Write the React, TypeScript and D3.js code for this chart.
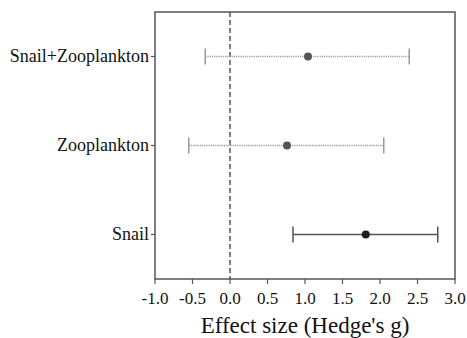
import { useEffect, useRef } from "react";
import * as d3 from "d3";

const categories = ["Snail+Zooplankton", "Zooplankton", "Snail"];
const means = [1.04, 0.76, 1.81];
const lowers = [-0.33, -0.55, 0.84];
const uppers = [2.39, 2.05, 2.77];
const xTicks = [-1.0, -0.5, 0.0, 0.5, 1.0, 1.5, 2.0, 2.5, 3.0];

const width = 467;
const height = 338;
const margin = { top: 12, right: 12, bottom: 59, left: 155 };

export default function App() {
  const ref = useRef<SVGSVGElement | null>(null);

  useEffect(() => {
    if (!ref.current) return;
    const svg = d3.select(ref.current);
    svg.selectAll("*").remove();

    const x = d3.scaleLinear([-1, 3], [margin.left, width - margin.right]);
    const y = d3
      .scalePoint<string>()
      .domain(categories)
      .range([margin.top, height - margin.bottom])
      .padding(0.5);

    const font = "'Times New Roman', 'Liberation Serif', serif";
    const axisColor = "#555";
    const bottom = height - margin.bottom;

    // plot frame
    svg
      .append("rect")
      .attr("x", margin.left)
      .attr("y", margin.top)
      .attr("width", width - margin.left - margin.right)
      .attr("height", bottom - margin.top)
      .attr("fill", "none")
      .attr("stroke", axisColor)
      .attr("stroke-width", 1.5);

    // x ticks + labels
    svg
      .selectAll("line.xtick")
      .data(xTicks)
      .enter()
      .append("line")
      .attr("class", "xtick")
      .attr("x1", (d) => x(d))
      .attr("x2", (d) => x(d))
      .attr("y1", bottom)
      .attr("y2", bottom + 5)
      .attr("stroke", axisColor)
      .attr("stroke-width", 1.2);

    svg
      .selectAll("text.xlab")
      .data(xTicks)
      .enter()
      .append("text")
      .attr("class", "xlab")
      .attr("x", (d) => x(d))
      .attr("y", bottom + 25)
      .attr("text-anchor", "middle")
      .attr("font-family", font)
      .attr("font-size", 17)
      .attr("fill", "#111")
      .text((d) => d.toFixed(1));

    // y ticks + labels
    svg
      .selectAll("line.ytick")
      .data(categories)
      .enter()
      .append("line")
      .attr("class", "ytick")
      .attr("x1", margin.left - 4)
      .attr("x2", margin.left)
      .attr("y1", (d) => y(d)!)
      .attr("y2", (d) => y(d)!)
      .attr("stroke", axisColor)
      .attr("stroke-width", 1.2);

    svg
      .selectAll("text.ylab")
      .data(categories)
      .enter()
      .append("text")
      .attr("class", "ylab")
      .attr("x", margin.left - 6)
      .attr("y", (d) => y(d)!)
      .attr("dy", "0.32em")
      .attr("text-anchor", "end")
      .attr("font-family", font)
      .attr("font-size", 18)
      .attr("fill", "#111")
      .text((d) => d);

    // zero reference line
    svg
      .append("line")
      .attr("x1", x(0))
      .attr("x2", x(0))
      .attr("y1", margin.top)
      .attr("y2", bottom)
      .attr("stroke", axisColor)
      .attr("stroke-width", 1.5)
      .attr("stroke-dasharray", "5,3");

    const rows = categories.map((c, i) => ({
      c,
      mean: means[i],
      lo: lowers[i],
      hi: uppers[i],
      solid: c === "Snail",
    }));

    const g = svg
      .selectAll("g.row")
      .data(rows)
      .enter()
      .append("g")
      .attr("class", "row");

    g.append("line")
      .attr("x1", (d) => x(d.lo))
      .attr("x2", (d) => x(d.hi))
      .attr("y1", (d) => y(d.c)!)
      .attr("y2", (d) => y(d.c)!)
      .attr("stroke", (d) => (d.solid ? "#555" : "#9a9a9a"))
      .attr("stroke-width", 1.3)
      .attr("stroke-dasharray", (d) => (d.solid ? null : "1.2,1"));

    // caps
    ["lo", "hi"].forEach((k) => {
      g.append("line")
        .attr("x1", (d: any) => x(d[k]))
        .attr("x2", (d: any) => x(d[k]))
        .attr("y1", (d) => y(d.c)! - 8)
        .attr("y2", (d) => y(d.c)! + 8)
        .attr("stroke", (d) => (d.solid ? "#555" : "#9a9a9a"))
        .attr("stroke-width", 1.5);
    });

    g.append("circle")
      .attr("cx", (d) => x(d.mean))
      .attr("cy", (d) => y(d.c)!)
      .attr("r", 4)
      .attr("fill", (d) => (d.solid ? "#1e1e1e" : "#555"));

    // x title
    svg
      .append("text")
      .attr("x", x(1))
      .attr("y", 333)
      .attr("text-anchor", "middle")
      .attr("font-family", font)
      .attr("font-size", 23)
      .attr("fill", "#111")
      .text("Effect size (Hedge's g)");
  }, []);

  return (
    <svg
      ref={ref}
      width={width}
      height={height}
      style={{ position: "absolute", left: 0, top: 0 }}
    />
  );
}
